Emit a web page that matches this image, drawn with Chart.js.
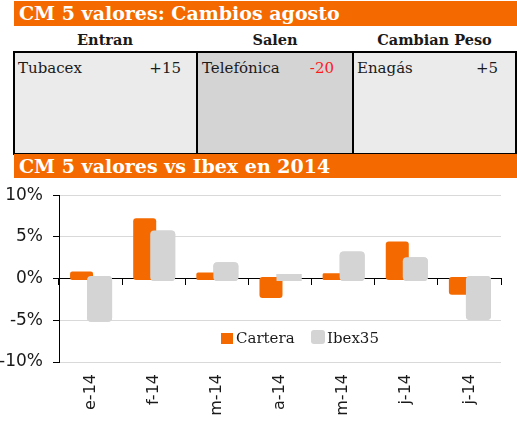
<!DOCTYPE html>
<html>
<head>
<meta charset="utf-8">
<script src="https://cdn.jsdelivr.net/npm/chart.js@4.4.1/dist/chart.umd.min.js"></script>
<style>
body{margin:0;width:517px;height:430px;position:relative;overflow:hidden;background:#fff;font-family:"DejaVu Serif",serif;color:#1a1a1a}
.titulo{position:absolute;left:14px;width:503px;height:25px;background:#f46a00;color:#fff;font-weight:bold;font-size:19px;line-height:25px;padding-left:5px;box-sizing:border-box;white-space:nowrap}
.cab{position:absolute;top:31px;font-weight:bold;font-size:14.5px;text-align:center}
.celda{position:absolute;top:51px;height:104px;border:2px solid #000;box-sizing:border-box;font-size:15px}
.celda span{position:absolute;top:6px}
.leg{position:absolute;font-size:15px;line-height:16px}
.leg i{position:absolute;display:block}
#wrap{position:absolute;left:0;top:175px;width:517px;height:255px}
</style>
</head>
<body>
<div class="titulo" style="top:1px">CM 5 valores: Cambios agosto</div>
<div class="cab" style="left:13px;width:184px">Entran</div>
<div class="cab" style="left:196px;width:158px">Salen</div>
<div class="cab" style="left:352px;width:165px">Cambian Peso</div>
<div class="celda" style="left:13px;width:186px;background:#ebebeb"><span style="left:3px">Tubacex</span><span style="right:16px">+15</span></div>
<div class="celda" style="left:196px;width:159px;background:#d4d4d4"><span style="left:4px">Telefónica</span><span style="right:19px;color:#ff1a1a">-20</span></div>
<div class="celda" style="left:352px;width:165px;background:#ebebeb"><span style="left:3px">Enagás</span><span style="right:17px">+5</span></div>
<div class="titulo" style="top:154px;height:24px;line-height:24px">CM 5 valores vs Ibex en 2014</div>
<div id="wrap"><canvas id="canvas" width="517" height="255"></canvas></div>
<div class="leg" style="left:221px;top:330px"><i style="left:0;top:3px;width:12px;height:11px;background:#f46a00"></i><span style="padding-left:15px">Cartera</span></div>
<div class="leg" style="left:311px;top:330px"><i style="left:0;top:0;width:14px;height:14px;border-radius:3px;background:#d4d4d4"></i><span style="padding-left:16px">Ibex35</span></div>
<script>
var meses = ['e-14', 'f-14', 'm-14', 'a-14', 'm-14', 'j-14', 'j-14'];
var cartera = [0.6, 7.0, 0.5, -2.1, 0.4, 4.2, -1.7];
var ibex35 = [-4.8, 5.4, 1.6, 0.2, 2.9, 2.2, -4.6];
var nombres = ['Cartera', 'Ibex35'];

var naranja = '#f46a00';
var gris = '#d4d4d4';

// el gris se pinta encima del naranja, como en el original
var grisEncima = {
	id: 'grisEncima',
	afterDatasetsDraw: function(chart){
		chart.getDatasetMeta(1).controller.draw();
	}
};

var ctx = document.getElementById("canvas").getContext("2d");
var chart = new Chart(ctx, {
	type: 'bar',
	data: {
		labels: meses,
		datasets: [{
			label: nombres[0],
			data: cartera,
			xAxisID: 'x',
			backgroundColor: naranja,
			borderWidth: 0,
			borderRadius: 3,
			borderSkipped: false,
			inflateAmount: 2,
			categoryPercentage: 0.571,
			barPercentage: 1.055
		}, {
			label: nombres[1],
			data: ibex35,
			xAxisID: 'x',
			backgroundColor: gris,
			borderWidth: 0,
			borderRadius: 4,
			borderSkipped: false,
			inflateAmount: 3,
			categoryPercentage: 0.571,
			barPercentage: 1.055
		}]
	},
	options: {
		responsive: false,
		animation: false,
		devicePixelRatio: 1,
		layout: {padding: {top: 8, right: 16, left: 0, bottom: 0}},
		plugins: {legend: {display: false}, tooltip: {enabled: false}},
		scales: {
			x: {
				type: 'category',
				grid: {display: false, drawTicks: false},
				border: {display: false},
				ticks: {
					minRotation: 90, maxRotation: 90, padding: 12,
					color: '#1a1a1a',
					font: {family: 'DejaVu Sans', size: 16}
				},
				afterFit: function(scale){ scale.height = 68; }
			},
			x2: {
				type: 'category',
				labels: meses,
				position: {y: 0},
				offset: true,
				z: 1,
				grid: {offset: true, drawOnChartArea: false, drawTicks: true, tickLength: 6, tickColor: '#000', color: '#000'},
				border: {display: true, color: '#000', width: 1},
				ticks: {display: false}
			},
			y: {
				min: -10, max: 10,
				ticks: {
					stepSize: 5, padding: 10,
					color: '#1a1a1a',
					font: {family: 'DejaVu Sans', size: 17},
					callback: function(v){ return v + '%'; }
				},
				grid: {
					color: function(c){ return c.tick && c.tick.value === 0 ? '#000' : '#d9d9d9'; },
					tickColor: '#000',
					tickLength: 6
				},
				border: {display: true, color: '#000', width: 1},
				afterFit: function(scale){ scale.width = 59; }
			}
		}
	},
	plugins: [grisEncima]
});
</script>
</body>
</html>
